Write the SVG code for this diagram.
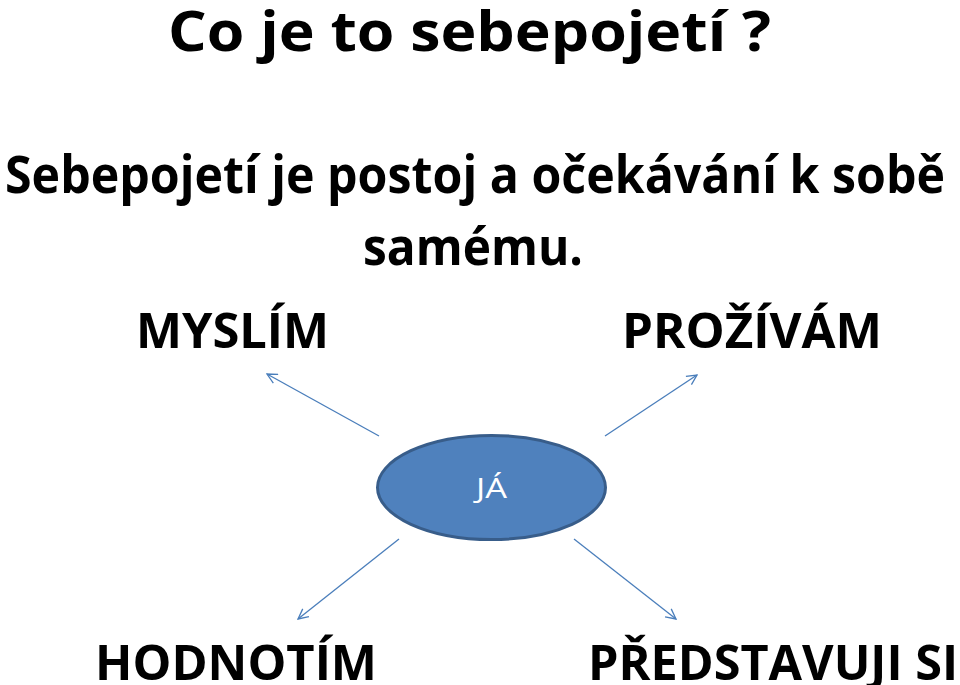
<svg xmlns="http://www.w3.org/2000/svg" width="960" height="685" viewBox="0 0 960 685">
<style>
.t{font-family:"Open Sans","Noto Sans","Liberation Sans",sans-serif;font-weight:bold;fill:#000}
.c{stroke:#4A7EBB;stroke-width:1.3;fill:none}
</style>
<defs>
<marker id="ah" viewBox="0 0 12 12" refX="11" refY="6" markerWidth="12" markerHeight="12" markerUnits="userSpaceOnUse" orient="auto">
<path d="M1,1 L11,6 L1,11" fill="none" stroke="#4A7EBB" stroke-width="1.3"/>
</marker>
</defs>
<rect width="960" height="685" fill="#fff"/>
<g id="title" transform="translate(0,51) scale(1,1.25)">
<text class="t" x="168" y="0" font-size="44" textLength="603" lengthAdjust="spacingAndGlyphs">Co je to sebepojetí ?</text>
</g>
<g id="definition">
<g transform="translate(0,193) scale(1,1.25)">
<text class="t" x="5" y="0" font-size="41.5" textLength="940" lengthAdjust="spacingAndGlyphs">Sebepojetí je postoj a očekávání k sobě</text>
</g>
<g transform="translate(0,265) scale(1,1.25)">
<text class="t" x="363" y="0" font-size="41.5" textLength="220" lengthAdjust="spacingAndGlyphs">samému.</text>
</g>
</g>
<g id="connectors">
<line class="c" x1="379" y1="436" x2="267" y2="374" marker-end="url(#ah)"/>
<line class="c" x1="605" y1="436" x2="697" y2="375" marker-end="url(#ah)"/>
<line class="c" x1="399" y1="539" x2="298" y2="619" marker-end="url(#ah)"/>
<line class="c" x1="574" y1="539" x2="676" y2="619" marker-end="url(#ah)"/>
</g>
<g id="ja">
<ellipse cx="491.5" cy="487.5" rx="114" ry="52" fill="#4F81BD" stroke="#385D8A" stroke-width="3"/>
<text x="476" y="498" font-family="Open Sans, Noto Sans, Liberation Sans, sans-serif" font-size="27" fill="#fff" textLength="31" lengthAdjust="spacingAndGlyphs">JÁ</text>
</g>
<g id="myslim" transform="translate(0,348) scale(1,1.25)">
<text class="t" x="136" y="0" font-size="39" textLength="193" lengthAdjust="spacingAndGlyphs">MYSLÍM</text>
</g>
<g id="prozivam" transform="translate(0,348) scale(1,1.25)">
<text class="t" x="622" y="0" font-size="39" textLength="260" lengthAdjust="spacingAndGlyphs">PROŽÍVÁM</text>
</g>
<g id="hodnotim" transform="translate(0,680) scale(1,1.25)">
<text class="t" x="95" y="0" font-size="39" textLength="282" lengthAdjust="spacingAndGlyphs">HODNOTÍM</text>
</g>
<g id="predstavuji" transform="translate(0,680) scale(1,1.25)">
<text class="t" x="588" y="0" font-size="39" textLength="370" lengthAdjust="spacingAndGlyphs">PŘEDSTAVUJI SI</text>
</g>
</svg>
